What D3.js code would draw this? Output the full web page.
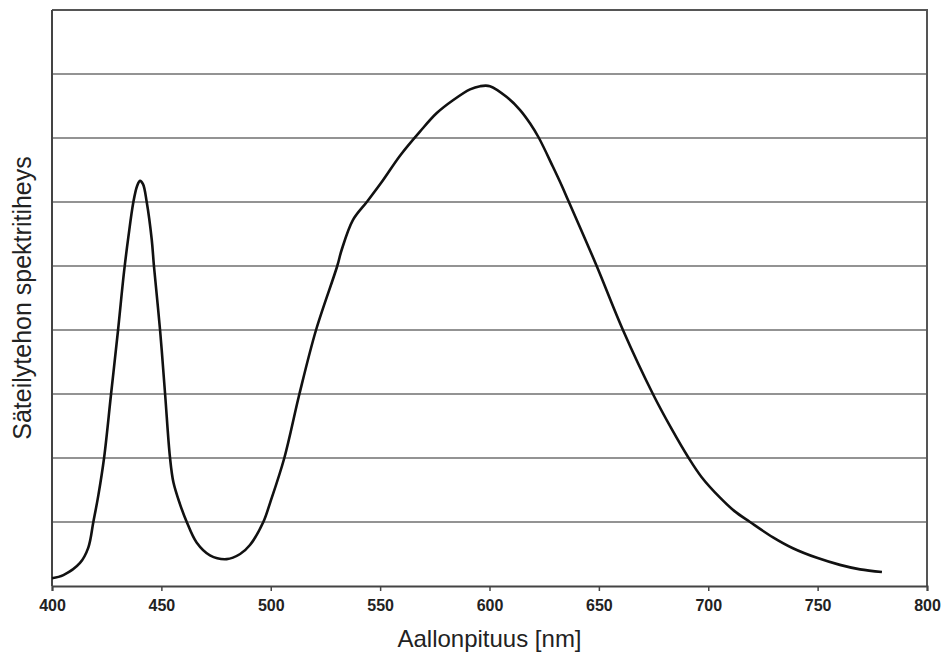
<!DOCTYPE html>
<html>
<head>
<meta charset="utf-8">
<script src="https://cdn.jsdelivr.net/npm/d3@7"></script>
<style>
  body { margin: 0; background: #fff; }
  svg text { font-family: "Liberation Sans", Arial, sans-serif; fill: #222; }
</style>
</head>
<body>
<div id="graph-container"></div>
<script>
// wavelength (nm) and relative spectral power
const wavelengths = [400, 405.2, 412.8, 416.6, 418.9, 421.2, 423.8, 427, 430.2, 432.9, 434.9,
  437.2, 438.9, 440.2, 441.6, 443.3, 445.6, 446.6, 449.4, 451.7, 453.9, 455.5, 458.5, 461.6, 466.1,
  472.2, 479.9, 486, 490.5, 496.6, 499.7, 506.2, 513.1, 520.7, 530.4, 532.4, 537.6, 543.9, 551.3,
  559, 568.2, 575.9, 583.3, 591.1, 595.7, 600.2, 607.9, 613.9, 618.5, 622.6, 629, 633.1, 635.9,
  639.9, 649, 661, 674.7, 683, 690.7, 697, 705.4, 712, 719.1, 729.6, 738.7, 749.7, 760.2, 769.4, 779.4];
const power = [0.12, 0.17, 0.36, 0.6, 1.0, 1.42, 2.0, 3.0, 4.0, 4.9, 5.45,
  6.0, 6.25, 6.33, 6.28, 6.0, 5.41, 5.0, 4.0, 3.0, 2.02, 1.62, 1.28, 1.0, 0.68,
  0.48, 0.42, 0.5, 0.64, 1.0, 1.3, 2.0, 3.0, 4.0, 5.0, 5.25, 5.72, 6.0, 6.34,
  6.72, 7.1, 7.39, 7.59, 7.76, 7.81, 7.81, 7.64, 7.44, 7.23, 7.0, 6.55, 6.25, 6.03,
  5.72, 5.0, 4.0, 3.0, 2.47, 2.02, 1.7, 1.38, 1.17, 1.0, 0.76, 0.59, 0.44, 0.33, 0.26, 0.22];
const xTicks = [400, 450, 500, 550, 600, 650, 700, 750, 800];
const gridLevels = [1, 2, 3, 4, 5, 6, 7, 8];

const width = 941, height = 653;
const margin = { top: 10, right: 14, bottom: 67, left: 52 };

const svg = d3.select('#graph-container')
              .append('svg')
              .attr('width', width)
              .attr('height', height);

const x = d3.scaleLinear().domain([400, 800]).range([margin.left, width - margin.right]);
const y = d3.scaleLinear().domain([0, 9]).range([height - margin.bottom, margin.top]);

// horizontal grid lines
svg.append('g')
   .selectAll('line')
   .data(gridLevels)
   .enter()
   .append('line')
   .attr('x1', x(400))
   .attr('x2', x(800))
   .attr('y1', d => y(d))
   .attr('y2', d => y(d))
   .attr('stroke', '#6f6f6f')
   .attr('stroke-width', 1.6);

// frame: top and right edges
svg.append('path')
   .attr('d', `M${x(400)},${y(9)}H${x(800)}V${y(0)}`)
   .attr('fill', 'none')
   .attr('stroke', '#555')
   .attr('stroke-width', 2);

// y axis, no labels
svg.append('line')
   .attr('x1', x(400)).attr('x2', x(400))
   .attr('y1', y(0)).attr('y2', y(9))
   .attr('stroke', '#444')
   .attr('stroke-width', 2);

// x axis
const xAxis = svg.append('g')
   .attr('transform', `translate(0,${y(0)})`)
   .call(d3.axisBottom(x).tickValues(xTicks).tickSize(5).tickPadding(9).tickFormat(d3.format('d')));
xAxis.select('.domain').attr('stroke', '#444').attr('stroke-width', 2);
xAxis.selectAll('.tick line').attr('stroke', '#444').attr('stroke-width', 1.5);
xAxis.selectAll('.tick text')
     .attr('font-size', 16)
     .attr('font-weight', 'bold')
     .attr('fill', '#484848')
     .style('font-family', '"Liberation Sans", Arial, sans-serif');

// spectrum curve
const points = wavelengths.map((w, i) => [w, power[i]]);
const line = d3.line()
               .x(d => x(d[0]))
               .y(d => y(d[1]))
               .curve(d3.curveCatmullRom.alpha(0.5));
svg.append('path')
   .datum(points)
   .attr('d', line)
   .attr('fill', 'none')
   .attr('stroke', '#111')
   .attr('stroke-width', 2.6)
   .attr('stroke-linejoin', 'round');

// axis titles
svg.append('text')
   .attr('x', (x(400) + x(800)) / 2)
   .attr('y', 647)
   .attr('text-anchor', 'middle')
   .attr('font-size', 24)
   .text('Aallonpituus [nm]');

svg.append('text')
   .attr('transform', `translate(31,${(y(0) + y(9)) / 2}) rotate(-90)`)
   .attr('text-anchor', 'middle')
   .attr('font-size', 25)
   .text('Säteilytehon spektritiheys');
</script>
</body>
</html>
